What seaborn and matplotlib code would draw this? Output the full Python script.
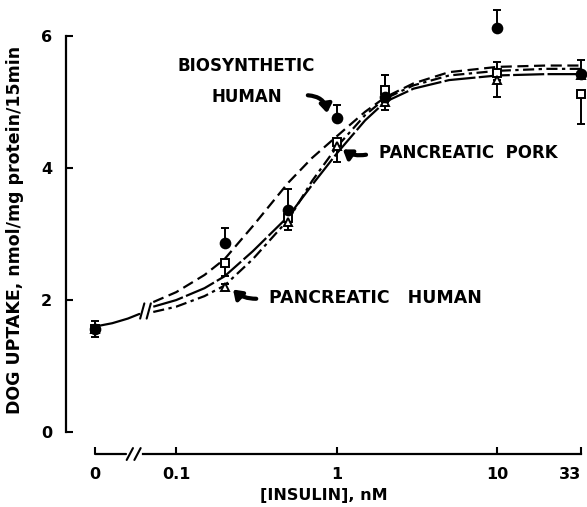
import numpy as np
import matplotlib
matplotlib.use("Agg")
import matplotlib.pyplot as plt
import seaborn as sns

# ─────────────────────────────────────────────
# DATA
# ─────────────────────────────────────────────
ZERO_POS = 0.0313          # where "0 nM" sits on the log axis (left of the break)

conc = [0, 0.2, 0.5, 1, 2, 10, 33]

bio_human = [1.56, 2.86, 3.36, 4.76, 5.08, 6.12, 5.42]
bio_err_lo = [0.12, 0, 0, 0, 0, 0, 0]
bio_err_hi = [0.12, 0.23, 0.32, 0.20, 0.32, 0.27, 0.22]

pork = [1.56, 2.56, 3.24, 4.39, 5.18, 5.44, 5.12]
pork_err_lo = [0, 0.20, 0, 0.30, 0, 0, 0.45]
pork_err_hi = [0, 0, 0, 0, 0.22, 0.16, 0]

panc_human = [1.56, 2.20, 3.18, 4.33, 5.00, 5.33, 5.40]
panc_err_lo = [0, 0.05, 0.12, 0, 0.13, 0.25, 0]
panc_err_hi = [0, 0.05, 0, 0, 0, 0, 0]

# fitted curves, split at the axis break
curve_x_left = [0, 0.04, 0.05, 0.059]
curve_y_left = [1.60, 1.65, 1.72, 1.79]
curve_x = [0.072, 0.1, 0.15, 0.2, 0.3, 0.5, 0.7, 1, 1.5, 2, 3, 5, 10, 20, 33]
curve_dashed = [1.97, 2.12, 2.38, 2.62, 3.12, 3.78, 4.15, 4.48, 4.85, 5.07, 5.28, 5.45, 5.53, 5.55, 5.55]
curve_solid = [1.90, 2.00, 2.18, 2.36, 2.74, 3.27, 3.74, 4.22, 4.72, 5.00, 5.20, 5.33, 5.40, 5.42, 5.42]
curve_dashdot = [1.82, 1.90, 2.06, 2.22, 2.62, 3.22, 3.80, 4.32, 4.80, 5.05, 5.25, 5.40, 5.47, 5.50, 5.50]

xtick_vals = [0, 0.1, 1, 10, 33]
xtick_labels = ["0", "0.1", "1", "10", "33"]
ytick_vals = [0, 2, 4, 6]


def pos(values):
    """Map concentrations to axis positions (0 goes left of the break)."""
    return [ZERO_POS if v == 0 else v for v in values]


# ─────────────────────────────────────────────
# FIGURE
# ─────────────────────────────────────────────
sns.set_style("ticks")
plt.rcParams["font.family"] = ["DejaVu Sans"]
plt.rcParams["font.weight"] = "bold"
for key in ("text.color", "axes.labelcolor", "xtick.color", "ytick.color", "axes.edgecolor"):
    plt.rcParams[key] = "black"

fig = plt.figure(figsize=(5.87, 5.07), dpi=100)
ax = fig.add_axes([0.1124, 0.1045, 0.8791, 0.8835])
ax.set_xscale("log")
ax.set_xlim(0.0206, 33.6)
ax.set_ylim(-0.33, 6.45)
ybot = -0.33

# curves
line_kw = dict(color="black", lw=1.6, estimator=None, sort=False, legend=False, ax=ax)
sns.lineplot(x=pos(curve_x_left), y=curve_y_left, **line_kw)
sns.lineplot(x=curve_x, y=curve_dashed, **line_kw)
ax.lines[-1].set_dashes([5, 2.5])
sns.lineplot(x=curve_x, y=curve_solid, **line_kw)
ax.lines[-1].set_dashes([14, 1.5])
sns.lineplot(x=curve_x, y=curve_dashdot, **line_kw)
ax.lines[-1].set_dashes([5, 2, 1.5, 2])

# break marks on curves
for dx in (0.0615, 0.0675):
    ax.plot([dx * 0.97, dx * 1.03], [1.72, 1.95], color="black", lw=1.5)

# points with one-sided error bars
series = [
    (pork, pork_err_lo, pork_err_hi, "s", "white", 5.5),
    (panc_human, panc_err_lo, panc_err_hi, "^", "white", 5.5),
    (bio_human, bio_err_lo, bio_err_hi, "o", "black", 7),
]
for vals, lo, hi, mk, fc, ms in series:
    ax.errorbar(pos(conc), vals, yerr=[lo, hi], fmt="none", ecolor="black",
                elinewidth=1.4, capsize=3.2, capthick=1.4, clip_on=False, zorder=3)
    ax.plot(pos(conc), vals, ls="none", marker=mk, mfc=fc, mec="black", mew=1.4,
            ms=ms, clip_on=False, zorder=4)

# axes styling
ax.spines["top"].set_visible(False)
ax.spines["right"].set_visible(False)
ax.spines["left"].set_bounds(0, 6)
ax.spines["bottom"].set_bounds(0.062, 33)
for sp in ("left", "bottom"):
    ax.spines[sp].set_linewidth(1.6)
ax.plot([ZERO_POS, 0.049], [ybot, ybot], color="black", lw=1.6, clip_on=False)
for dx in (0.0515, 0.0575):
    ax.plot([dx * 0.955, dx * 1.045], [ybot - 0.09, ybot + 0.09], color="black",
            lw=1.5, clip_on=False)

ax.set_xticks(pos(xtick_vals))
ax.set_xticklabels(xtick_labels)
ax.xaxis.set_minor_locator(matplotlib.ticker.NullLocator())
ax.get_xticklabels()[-1].set_horizontalalignment("right")
ax.get_xticklabels()[-1].set_x(0)
ax.set_yticks(ytick_vals)
ax.tick_params(direction="in", length=5, width=1.5, labelsize=11.5, pad=9)
ax.tick_params(axis="y", pad=10)
lbl33 = ax.get_xticklabels()[-1]
lbl33.set_ha("right")

ax.set_xlabel("[INSULIN], nM", fontsize=11.5, fontweight="bold", labelpad=5)
ax.set_ylabel("DOG UPTAKE, nmol/mg protein/15min", fontsize=12.5, fontweight="bold",
              labelpad=12)

# labels and arrows
txt_kw = dict(fontsize=12, fontweight="bold", ha="center", va="center")
ax.text(0.271, 5.55, "BIOSYNTHETIC", **txt_kw)
ax.text(0.275, 5.08, "HUMAN", **txt_kw)
ax.text(6.55, 4.23, "PANCREATIC  PORK", **txt_kw)
ax.text(1.75, 2.03, "PANCREATIC   HUMAN", fontsize=12.5, fontweight="bold",
        ha="center", va="center")

arrow_kw = dict(arrowstyle="-|>,head_length=0.5,head_width=0.35", color="black",
                lw=3, shrinkA=0, shrinkB=0)
ax.annotate("", xy=(0.87, 4.83), xytext=(0.66, 5.1),
            arrowprops=dict(connectionstyle="arc3,rad=-0.4", **arrow_kw))
ax.annotate("", xy=(1.09, 4.28), xytext=(1.52, 4.2),
            arrowprops=dict(connectionstyle="arc3,rad=-0.2", **arrow_kw))
ax.annotate("", xy=(0.226, 2.16), xytext=(0.315, 2.02),
            arrowprops=dict(connectionstyle="arc3,rad=-0.2", **arrow_kw))

fig.savefig("out.png", dpi=100)
